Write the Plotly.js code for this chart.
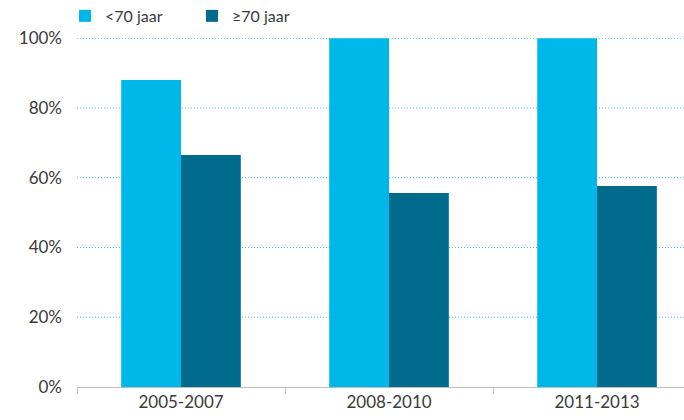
<!DOCTYPE html>
<html>
<head>
<meta charset="utf-8">
<script src="https://cdn.plot.ly/plotly-3.0.1.min.js"></script>
<style>html,body{margin:0;padding:0;background:#fff;}#chart{width:684px;height:420px;}</style>
</head>
<body>
<div id="chart"></div>
<script>
var categories = ["2005-2007", "2008-2010", "2011-2013"];
var seriesNames = ["<70 jaar", "≥70 jaar"];
var under70 = [0.88, 1.00, 1.00];
var over70 = [0.665, 0.556, 0.576];
var yTicks = [0, 0.2, 0.4, 0.6, 0.8, 1.0];
var yTickLabels = ["0%", "20%", "40%", "60%", "80%", "100%"];

var traces = [
  {type: "bar", name: seriesNames[0], x: categories, y: under70, marker: {color: "#00B7EA"}, hoverinfo: "skip"},
  {type: "bar", name: seriesNames[1], x: categories, y: over70, marker: {color: "#006B8D"}, hoverinfo: "skip"}
];

var gridShapes = yTicks.slice(1).map(function (v) {
  return {type: "line", xref: "paper", yref: "y", x0: 0, x1: 1, y0: v, y1: v,
          line: {color: "#2EBCEE", width: 1, dash: "1px,2px"}, layer: "below"};
});

var layout = {
  width: 684, height: 420,
  margin: {l: 77, r: 0, t: 38, b: 33, autoexpand: false},
  paper_bgcolor: "#fff", plot_bgcolor: "#fff",
  font: {family: "Lato, sans-serif", size: 17, color: "#3a3a3a"},
  barmode: "group", bargap: 0.425, bargroupgap: 0,
  showlegend: true,
  legend: {orientation: "h", xref: "container", yref: "container", x: 0.095, xanchor: "left", y: 0.962, yanchor: "middle",
           font: {size: 16, color: "#3a3a3a"}, entrywidth: 82, entrywidthmode: "pixels",
           itemwidth: 30, tracegroupgap: 0, traceorder: "normal"},
  xaxis: {type: "category", range: [-0.5, 2.418], showline: true, linecolor: "#bfbfbf", linewidth: 1,
          ticks: "outside", tickson: "boundaries", ticklen: 6, tickcolor: "#bfbfbf",
          showgrid: false, zeroline: false, tickfont: {size: 17, color: "#3a3a3a"}},
  yaxis: {range: [0, 1.0005], tickvals: yTicks, ticktext: yTickLabels, showgrid: false,
          zeroline: false, showline: false,
          ticks: "", ticklabelstandoff: 14, tickfont: {size: 17, color: "#3a3a3a"}, fixedrange: true},
  shapes: gridShapes
};
Plotly.newPlot("chart", traces, layout, {staticPlot: true, displayModeBar: false});
</script>
</body>
</html>
